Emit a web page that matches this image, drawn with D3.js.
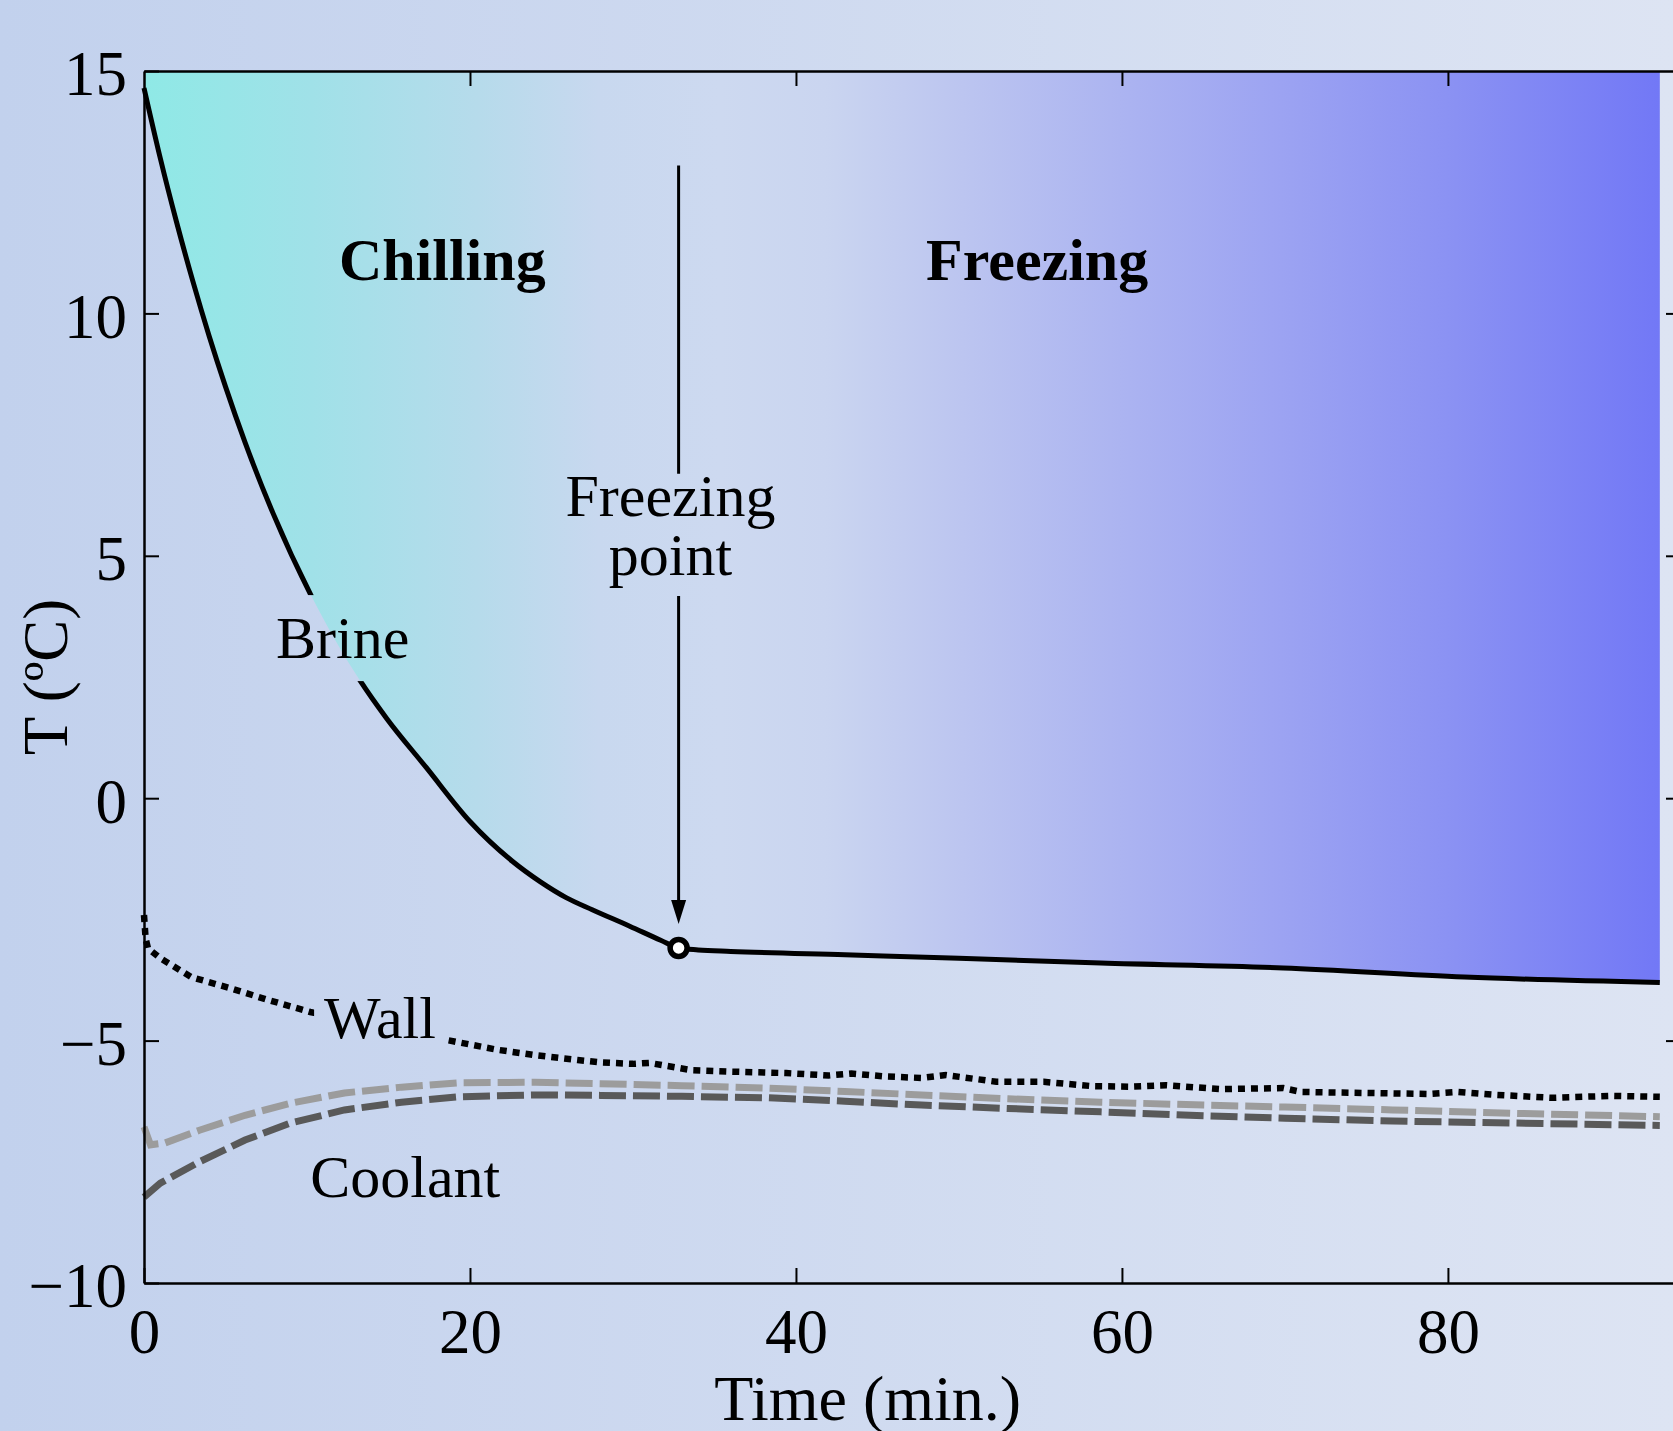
<!DOCTYPE html>
<html lang="en">
<head>
    <meta charset="UTF-8">
    <title>Brine temperature during chilling and freezing</title>
    <script src="https://d3js.org/d3.v7.min.js"></script>
    <style>
        html, body { margin: 0; padding: 0; overflow: hidden; }
        svg { display: block; }
    </style>
</head>
<body>

    <svg width="1673" height="1431"></svg>

    <script>
        // Brine temperature (solid black line)
        const brineTime = [0, 1, 2, 3, 4, 5, 6.2, 7.9, 10.3, 13.25, 14.9, 17.3, 20, 22.6, 24.3, 25.9, 27.5, 29.8, 31.7, 32.8, 34, 36, 43, 50, 58.7, 69.9, 81, 93];
        const brineTemp = [14.65, 13.2, 11.88, 10.66, 9.53, 8.49, 7.34, 5.89, 4.15, 2.43, 1.64, 0.64, -0.48, -1.3, -1.72, -2.05, -2.3, -2.64, -2.93, -3.09, -3.13, -3.16, -3.23, -3.3, -3.4, -3.5, -3.69, -3.8];

        // Wall temperature (dotted line)
        const wallTime = [0, 0.1, 0.25, 1, 2.9, 5.3, 7.6, 10.2, 18.6, 21.7, 24, 26.6, 28, 30, 31, 33.6, 36, 39.4, 42, 43.4, 45.5, 47.7, 49.2, 52.3, 55.2, 58.2, 60.5, 62.7, 66, 69.9, 71, 75, 78.8, 80.6, 83, 86.4, 90, 93];
        const wallTemp = [-2.41, -2.9, -3.1, -3.3, -3.69, -3.92, -4.16, -4.41, -4.99, -5.19, -5.3, -5.4, -5.45, -5.48, -5.46, -5.61, -5.64, -5.67, -5.72, -5.68, -5.74, -5.77, -5.71, -5.85, -5.85, -5.94, -5.95, -5.92, -6.0, -5.98, -6.06, -6.08, -6.1, -6.06, -6.12, -6.18, -6.14, -6.16];

        // Coolant temperatures (dashed lines, light and dark)
        const coolantTime = [0, 0.4, 1.3, 3.4, 6.2, 9, 12.3, 15.8, 19.3, 24, 28, 33, 38.3, 43, 47.7, 53, 58.7, 65, 70, 76.6, 84, 93];
        const coolantLight = [-6.78, -7.15, -7.11, -6.85, -6.54, -6.29, -6.08, -5.96, -5.87, -5.86, -5.89, -5.93, -5.98, -6.05, -6.12, -6.2, -6.27, -6.33, -6.37, -6.43, -6.5, -6.57];
        const coolantDarkTime = [0, 1, 3.4, 6.2, 9, 12.3, 15.8, 19.3, 24, 28, 33, 38.3, 43, 47.7, 53, 58.7, 65, 70, 76.6, 84, 93];
        const coolantDark = [-8.23, -7.94, -7.5, -7.05, -6.7, -6.43, -6.27, -6.16, -6.12, -6.13, -6.15, -6.18, -6.25, -6.33, -6.4, -6.47, -6.55, -6.6, -6.66, -6.7, -6.75];

        // Freezing point and axes
        const freezePoint = { t: 32.8, T: -3.09 };
        const xTicks = [0, 20, 40, 60, 80];
        const yTicks = [-10, -5, 0, 5, 10, 15];

        const width = 1673, height = 1431;
        const margin = { top: 71, left: 144, bottom: 148 };
        const font = "'Liberation Serif', 'Times New Roman', serif";

        const zip = (ts, vs) => ts.map((t, i) => ({ t: t, T: vs[i] }));
        const brine = zip(brineTime, brineTemp);
        const wall = zip(wallTime, wallTemp);
        const coolL = zip(coolantTime, coolantLight);
        const coolD = zip(coolantDarkTime, coolantDark);

        const x = d3.scaleLinear().domain([0, 94.3]).range([margin.left, 1681]);
        const y = d3.scaleLinear().domain([-10, 15]).range([height - margin.bottom, margin.top]);

        const svg = d3.select("svg");
        const defs = svg.append("defs");

        // page background
        const bg = defs.append("linearGradient").attr("id", "bg")
            .attr("x1", 0).attr("x2", 1).attr("y1", 0).attr("y2", 0);
        bg.append("stop").attr("offset", 0).attr("stop-color", "#c2d1ed");
        bg.append("stop").attr("offset", 1).attr("stop-color", "#dde4f3");
        svg.append("rect").attr("width", width).attr("height", height).attr("fill", "url(#bg)");

        // fill above the brine curve: cyan (chilling) -> blue (freezing)
        const fillGrad = defs.append("linearGradient").attr("id", "phase")
            .attr("gradientUnits", "userSpaceOnUse")
            .attr("x1", x(0)).attr("x2", x(93)).attr("y1", 0).attr("y2", 0);
        [[0, "#8fe9e6"], [0.11, "#a0e1e8"], [0.22, "#b6dbeb"], [0.3, "#c8d8ef"], [0.38, "#cdd9f0"],
         [0.45, "#cad5f0"], [0.54, "#bcc5f0"], [0.65, "#abb3f1"], [0.75, "#9ca3f2"], [0.86, "#8b92f3"], [1, "#7278f6"]]
            .forEach(s => fillGrad.append("stop").attr("offset", s[0]).attr("stop-color", s[1]));

        svg.append("path")
            .datum(brine)
            .attr("fill", "url(#phase)")
            .attr("d", d3.area().x(d => x(d.t)).y0(y(15)).y1(d => y(d.T)).curve(d3.curveMonotoneX));

        // labels first (needed for masks)
        const labels = svg.append("g").attr("font-family", font).attr("fill", "#000");
        const brineLabel = labels.append("text").attr("x", x(8.1)).attr("y", y(2.89)).attr("font-size", 60).text("Brine");
        const wallLabel = labels.append("text").attr("x", x(11.05)).attr("y", y(-4.95)).attr("font-size", 60).text("Wall");
        labels.append("text").attr("x", x(10.2)).attr("y", y(-8.23)).attr("font-size", 60).text("Coolant");

        labels.append("text").attr("x", x(18.3)).attr("y", y(10.68)).attr("text-anchor", "middle")
            .attr("font-size", 60).attr("font-weight", "bold").text("Chilling");
        labels.append("text").attr("x", x(54.8)).attr("y", y(10.68)).attr("text-anchor", "middle")
            .attr("font-size", 60).attr("font-weight", "bold").text("Freezing");
        labels.append("text").attr("x", x(32.3)).attr("y", y(5.82)).attr("text-anchor", "middle")
            .attr("font-size", 60).text("Freezing");
        labels.append("text").attr("x", x(32.3)).attr("y", y(4.6)).attr("text-anchor", "middle")
            .attr("font-size", 60).text("point");

        // masks cut the lines behind the Brine / Wall labels
        const mask = defs.append("mask").attr("id", "labelGap").attr("maskUnits", "userSpaceOnUse")
            .attr("x", 0).attr("y", 0).attr("width", width).attr("height", height);
        mask.append("rect").attr("width", width).attr("height", height).attr("fill", "white");
        [[brineLabel, 8, 10], [wallLabel, 10, 6]].forEach(([lab, px, py]) => {
            const b = lab.node().getBBox();
            mask.append("rect").attr("x", b.x - px).attr("y", b.y - py)
                .attr("width", b.width + 2 * px).attr("height", b.height + 2 * py).attr("fill", "black");
        });

        const line = d3.line().x(d => x(d.t)).y(d => y(d.T));

        svg.append("path").datum(coolL)
            .attr("fill", "none").attr("stroke", "#9c9c9c").attr("stroke-width", 7)
            .attr("stroke-dasharray", "27,7").attr("d", line);
        svg.append("path").datum(coolD)
            .attr("fill", "none").attr("stroke", "#595959").attr("stroke-width", 7)
            .attr("stroke-dasharray", "27,7").attr("d", line);
        svg.append("path").datum(wall)
            .attr("fill", "none").attr("stroke", "#000").attr("stroke-width", 6.5)
            .attr("stroke-dasharray", "7,6").attr("mask", "url(#labelGap)").attr("d", line);
        svg.append("path").datum(brine)
            .attr("fill", "none").attr("stroke", "#000").attr("stroke-width", 5)
            .attr("mask", "url(#labelGap)")
            .attr("d", line.curve(d3.curveMonotoneX));

        // freezing point arrow (broken around its label)
        const ax = x(freezePoint.t);
        svg.append("line").attr("x1", ax).attr("x2", ax).attr("y1", y(13.05)).attr("y2", y(6.69))
            .attr("stroke", "#000").attr("stroke-width", 3);
        svg.append("line").attr("x1", ax).attr("x2", ax).attr("y1", y(4.17)).attr("y2", y(-2.2))
            .attr("stroke", "#000").attr("stroke-width", 3);
        const tip = y(freezePoint.T) - 24;
        svg.append("path")
            .attr("d", `M${ax},${tip} L${ax - 7.5},${tip - 24} L${ax + 7.5},${tip - 24} Z`)
            .attr("fill", "#000");

        svg.append("circle").attr("cx", ax).attr("cy", y(freezePoint.T)).attr("r", 8.5)
            .attr("fill", "#fff").attr("stroke", "#000").attr("stroke-width", 5.5);

        // axes box with inward ticks
        function styleAxis(g) {
            g.attr("font-family", font).attr("font-size", 63);
            g.select(".domain").attr("stroke", "#000").attr("stroke-width", 2.5);
            g.selectAll(".tick line").attr("stroke", "#000").attr("stroke-width", 2);
            g.selectAll(".tick text").attr("fill", "#000");
        }

        svg.append("g").attr("transform", `translate(0,${y(-10)})`)
            .call(d3.axisBottom(x).tickValues(xTicks).tickSizeInner(-15).tickSizeOuter(0).tickPadding(25))
            .call(styleAxis);
        svg.append("g").attr("transform", `translate(0,${y(15)})`)
            .call(d3.axisTop(x).tickValues(xTicks.slice(1)).tickSizeInner(-15).tickSizeOuter(0).tickFormat(""))
            .call(styleAxis);
        svg.append("g").attr("transform", `translate(${x(0)},0)`)
            .call(d3.axisLeft(y).tickValues(yTicks).tickSizeInner(-15).tickSizeOuter(0).tickPadding(17))
            .call(styleAxis)
            .selectAll(".tick text").attr("dy", "0.38em");
        svg.append("g").attr("transform", `translate(${x(94.3)},0)`)
            .call(d3.axisRight(y).tickValues(yTicks.slice(1, 5)).tickSizeInner(-15).tickSizeOuter(0).tickFormat(""))
            .call(styleAxis);

        // axis titles
        svg.append("text")
            .attr("x", x(44.4)).attr("y", 1420)
            .attr("text-anchor", "middle").attr("font-family", font).attr("font-size", 64)
            .text("Time (min.)");
        svg.append("text")
            .attr("transform", `translate(67,${y(2.5)}) rotate(-90)`)
            .attr("text-anchor", "middle").attr("font-family", font).attr("font-size", 63)
            .text("T (ºC)");
    </script>

</body>
</html>
